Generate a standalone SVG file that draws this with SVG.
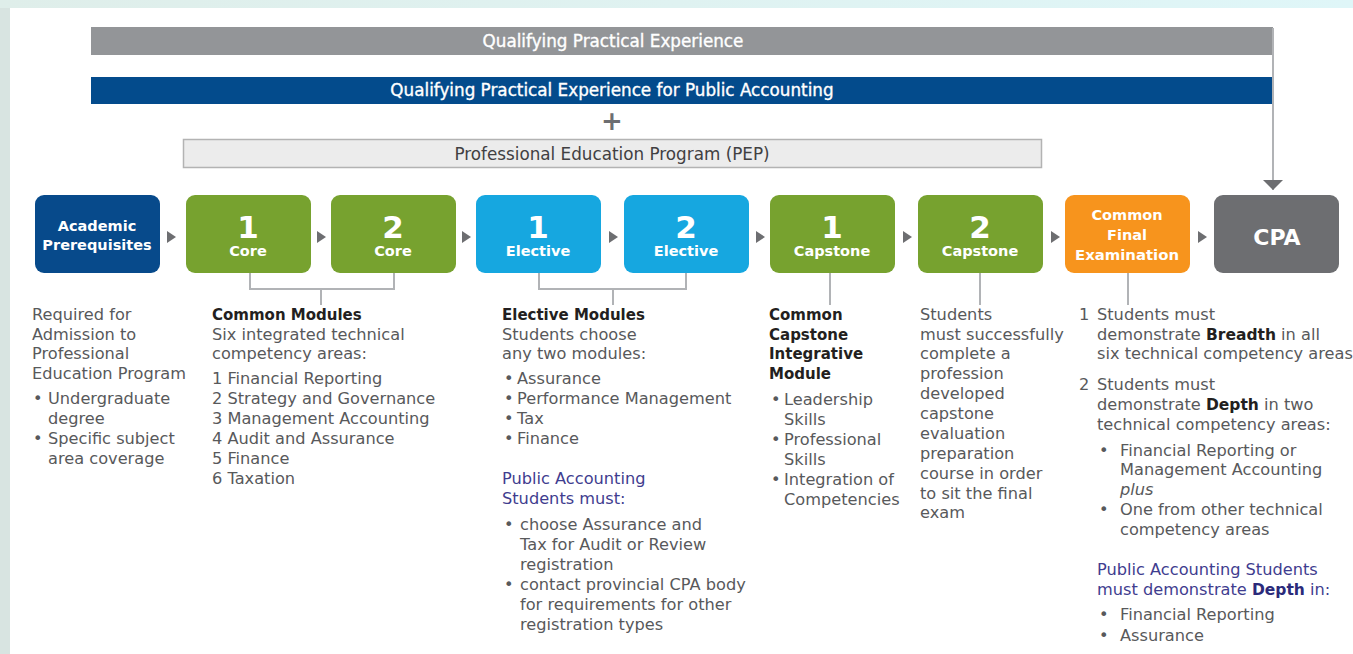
<svg xmlns="http://www.w3.org/2000/svg" width="1353" height="654" viewBox="0 0 1353 654">
  <defs>
    <linearGradient id="bgTop" x1="0" y1="0" x2="1" y2="0">
      <stop offset="0" stop-color="#dfeeea"/>
      <stop offset="1" stop-color="#dff6f8"/>
    </linearGradient>
    <marker id="down" viewBox="0 0 10 20" refX="10" refY="10" markerWidth="10" markerHeight="20" markerUnits="userSpaceOnUse" orient="auto">
      <path d="M0,0 L10,10 L0,20 Z" fill="#6d6e71"/>
    </marker>
  </defs>
  <style>
    .body { font-family: "DejaVu Sans", "Liberation Sans", sans-serif; font-size: 16.2px; fill: #58595b; }
    .head { font-family: "DejaVu Sans", "Liberation Sans", sans-serif; font-size: 15px; font-weight: bold; fill: #231f20; }
    .pub { fill: #3f3d8f; }
    .b { font-weight: bold; fill: #231f20; font-size: 15.5px; }
    .pb { font-weight: bold; fill: #2b2a7a; font-size: 15.5px; }
    .bar { font-family: "DejaVu Sans", "Liberation Sans", sans-serif; font-size: 16.8px; fill: #ffffff; text-anchor: middle; stroke: #ffffff; stroke-width: 0.35; }
    .lbl { font-family: "DejaVu Sans", "Liberation Sans", sans-serif; font-weight: bold; fill: #ffffff; text-anchor: middle; }
    .num { font-size: 31px; }
    .sm { font-size: 14.5px; }
    .step { fill: #6d6e71; }
    .wire { fill: none; stroke: #b1b3b6; stroke-width: 2; }
  </style>

  <!-- page background -->
  <rect x="0" y="0" width="1353" height="654" fill="#d8e4e1"/>
  <rect x="0" y="0" width="1353" height="8" fill="url(#bgTop)"/>
  <rect x="10" y="8" width="1343" height="646" fill="#ffffff"/>

  <!-- top bands -->
  <g id="qpe">
    <rect x="91" y="27" width="1182" height="28" fill="#939598"/>
    <text class="bar" x="613" y="46.5">Qualifying Practical Experience</text>
  </g>
  <g id="qpe-public">
    <rect x="91" y="77" width="1182" height="27" fill="#034b8c"/>
    <text class="bar" x="612" y="96">Qualifying Practical Experience for Public Accounting</text>
  </g>
  <text x="612" y="130" font-family="DejaVu Sans, sans-serif" font-size="26" font-weight="bold" fill="#6d6e71" text-anchor="middle">+</text>
  <g id="pep">
    <rect x="183.5" y="139.5" width="858" height="28" fill="#ececec" stroke="#b3b3b3" stroke-width="1.5"/>
    <text x="612" y="160" font-family="DejaVu Sans, sans-serif" font-size="16.8" fill="#414042" text-anchor="middle">Professional Education Program (PEP)</text>
  </g>

  <!-- connectors -->
  <g id="connectors">
    <path class="wire" d="M1273,28 V190" marker-end="url(#down)"/>
    <path class="wire" d="M250,273 V289 H394 V273 M321,289 V305"/>
    <path class="wire" d="M539,273 V289 H686 V273 M613,289 V305"/>
    <path class="wire" d="M830,273 V305"/>
    <path class="wire" d="M980,273 V305"/>
    <path class="wire" d="M1128,273 V305"/>
    <g class="step">
      <path d="M167,231 L176,237 L167,243 Z"/>
      <path d="M317,231 L326,237 L317,243 Z"/>
      <path d="M462,231 L471,237 L462,243 Z"/>
      <path d="M609,231 L618,237 L609,243 Z"/>
      <path d="M756,231 L765,237 L756,243 Z"/>
      <path d="M903,231 L912,237 L903,243 Z"/>
      <path d="M1051,231 L1060,237 L1051,243 Z"/>
      <path d="M1198,231 L1207,237 L1198,243 Z"/>
    </g>
  </g>

  <!-- stage boxes -->
  <g id="academic">
    <rect x="35" y="195" width="125" height="78" rx="9" fill="#074a8b"/>
    <text class="lbl sm" x="97" y="231">Academic</text>
    <text class="lbl sm" x="97" y="250">Prerequisites</text>
  </g>
  <g id="core1">
    <rect x="186" y="195" width="125" height="78" rx="9" fill="#77a22f"/>
    <text class="lbl num" x="248" y="238">1</text>
    <text class="lbl sm" x="248" y="256">Core</text>
  </g>
  <g id="core2">
    <rect x="331" y="195" width="125" height="78" rx="9" fill="#77a22f"/>
    <text class="lbl num" x="393" y="238">2</text>
    <text class="lbl sm" x="393" y="256">Core</text>
  </g>
  <g id="elective1">
    <rect x="476" y="195" width="125" height="78" rx="9" fill="#16a7e0"/>
    <text class="lbl num" x="538" y="238">1</text>
    <text class="lbl sm" x="538" y="256">Elective</text>
  </g>
  <g id="elective2">
    <rect x="624" y="195" width="125" height="78" rx="9" fill="#16a7e0"/>
    <text class="lbl num" x="686" y="238">2</text>
    <text class="lbl sm" x="686" y="256">Elective</text>
  </g>
  <g id="capstone1">
    <rect x="770" y="195" width="125" height="78" rx="9" fill="#77a22f"/>
    <text class="lbl num" x="832" y="238">1</text>
    <text class="lbl sm" x="832" y="256">Capstone</text>
  </g>
  <g id="capstone2">
    <rect x="918" y="195" width="125" height="78" rx="9" fill="#77a22f"/>
    <text class="lbl num" x="980" y="238">2</text>
    <text class="lbl sm" x="980" y="256">Capstone</text>
  </g>
  <g id="final-exam">
    <rect x="1065" y="195" width="125" height="78" rx="9" fill="#f7941d"/>
    <text class="lbl sm" x="1127" y="220">Common</text>
    <text class="lbl sm" x="1127" y="240">Final</text>
    <text class="lbl sm" x="1127" y="260" textLength="104" lengthAdjust="spacingAndGlyphs">Examination</text>
  </g>
  <g id="cpa">
    <rect x="1214" y="195" width="125" height="78" rx="9" fill="#6d6e71"/>
    <text class="lbl" x="1277" y="245" font-size="22">CPA</text>
  </g>

  <!-- descriptions -->
  <g id="desc-academic" class="body">
    <text x="32" y="320">Required for</text>
    <text x="32" y="340">Admission to</text>
    <text x="32" y="359">Professional</text>
    <text x="32" y="379">Education Program</text>
    <text x="33" y="404">•</text><text x="48" y="404">Undergraduate</text>
    <text x="48" y="424">degree</text>
    <text x="33" y="444">•</text><text x="48" y="444">Specific subject</text>
    <text x="48" y="464">area coverage</text>
  </g>
  <g id="desc-core" class="body">
    <text class="head" x="212" y="320">Common Modules</text>
    <text x="212" y="340">Six integrated technical</text>
    <text x="212" y="359">competency areas:</text>
    <text x="212" y="384">1 Financial Reporting</text>
    <text x="212" y="404">2 Strategy and Governance</text>
    <text x="212" y="424">3 Management Accounting</text>
    <text x="212" y="444">4 Audit and Assurance</text>
    <text x="212" y="464">5 Finance</text>
    <text x="212" y="484">6 Taxation</text>
  </g>
  <g id="desc-elective" class="body">
    <text class="head" x="502" y="320">Elective Modules</text>
    <text x="502" y="340">Students choose</text>
    <text x="502" y="359">any two modules:</text>
    <text x="504" y="384">•</text><text x="517" y="384">Assurance</text>
    <text x="504" y="404">•</text><text x="517" y="404">Performance Management</text>
    <text x="504" y="424">•</text><text x="517" y="424">Tax</text>
    <text x="504" y="444">•</text><text x="517" y="444">Finance</text>
    <text class="body pub" x="502" y="484">Public Accounting</text>
    <text class="body pub" x="502" y="504">Students must:</text>
    <text x="504" y="530">•</text><text x="520" y="530">choose Assurance and</text>
    <text x="520" y="550">Tax for Audit or Review</text>
    <text x="520" y="570">registration</text>
    <text x="504" y="590">•</text><text x="520" y="590">contact provincial CPA body</text>
    <text x="520" y="610">for requirements for other</text>
    <text x="520" y="630">registration types</text>
  </g>
  <g id="desc-capstone1" class="body">
    <text class="head" x="769" y="320">Common</text>
    <text class="head" x="769" y="340">Capstone</text>
    <text class="head" x="769" y="359">Integrative</text>
    <text class="head" x="769" y="379">Module</text>
    <text x="771" y="405">•</text><text x="784" y="405">Leadership</text>
    <text x="784" y="425">Skills</text>
    <text x="771" y="445">•</text><text x="784" y="445">Professional</text>
    <text x="784" y="465">Skills</text>
    <text x="771" y="485">•</text><text x="784" y="485">Integration of</text>
    <text x="784" y="505">Competencies</text>
  </g>
  <g id="desc-capstone2" class="body">
    <text x="920" y="320">Students</text>
    <text x="920" y="340">must successfully</text>
    <text x="920" y="359">complete a</text>
    <text x="920" y="379">profession</text>
    <text x="920" y="399">developed</text>
    <text x="920" y="419">capstone</text>
    <text x="920" y="439">evaluation</text>
    <text x="920" y="459">preparation</text>
    <text x="920" y="479">course in order</text>
    <text x="920" y="499">to sit the final</text>
    <text x="920" y="518">exam</text>
  </g>
  <g id="desc-final" class="body">
    <text x="1079" y="320">1</text><text x="1097" y="320">Students must</text>
    <text x="1097" y="340">demonstrate <tspan class="b">Breadth</tspan> in all</text>
    <text x="1097" y="359">six technical competency areas</text>
    <text x="1079" y="390">2</text><text x="1097" y="390">Students must</text>
    <text x="1097" y="410">demonstrate <tspan class="b">Depth</tspan> in two</text>
    <text x="1097" y="430">technical competency areas:</text>
    <text x="1099" y="456">•</text><text x="1120" y="456">Financial Reporting or</text>
    <text x="1120" y="475">Management Accounting</text>
    <text x="1120" y="495" font-style="italic">plus</text>
    <text x="1099" y="515">•</text><text x="1120" y="515">One from other technical</text>
    <text x="1120" y="535">competency areas</text>
    <text class="body pub" x="1097" y="575">Public Accounting Students</text>
    <text class="body pub" x="1097" y="595">must demonstrate <tspan class="pb">Depth</tspan> in:</text>
    <text x="1099" y="620">•</text><text x="1120" y="620">Financial Reporting</text>
    <text x="1099" y="641">•</text><text x="1120" y="641">Assurance</text>
  </g>
</svg>
